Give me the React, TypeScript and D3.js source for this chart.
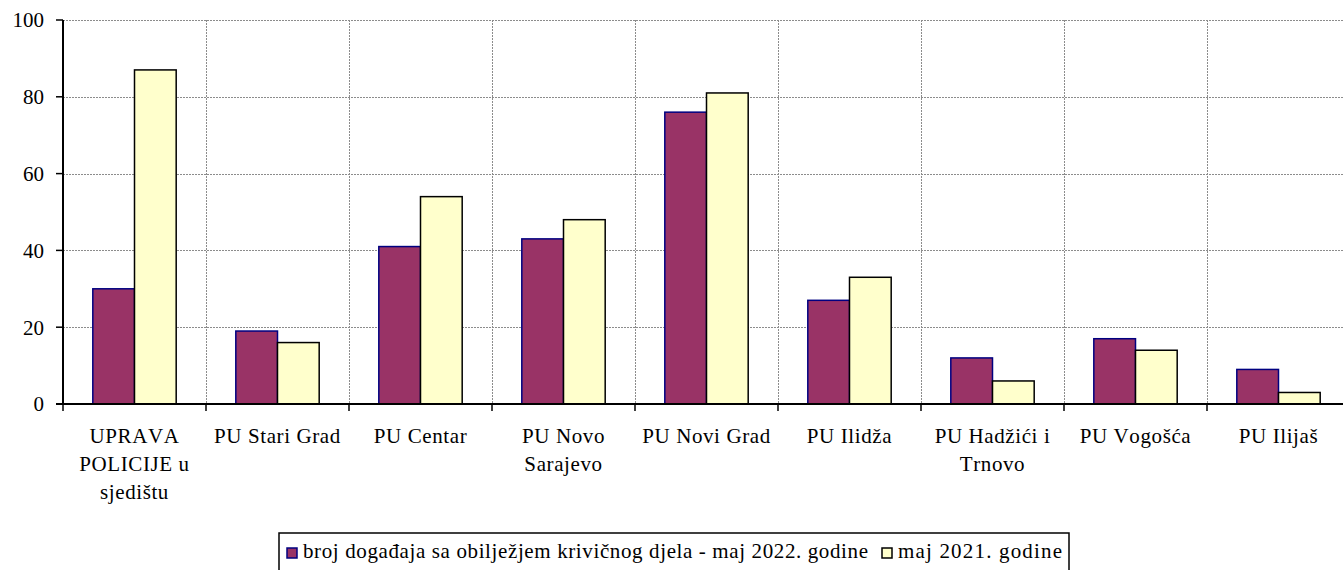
import * as d3 from 'd3';

const categories = [
    'UPRAVA POLICIJE u sjedištu',
    'PU Stari Grad',
    'PU Centar',
    'PU Novo Sarajevo',
    'PU Novi Grad',
    'PU Ilidža',
    'PU Hadžići i Trnovo',
    'PU Vogošća',
    'PU Ilijaš',
];

// how the tick labels wrap
const categoryLines = [
    ['UPRAVA', 'POLICIJE u', 'sjedištu'],
    ['PU Stari Grad'],
    ['PU Centar'],
    ['PU Novo', 'Sarajevo'],
    ['PU Novi Grad'],
    ['PU Ilidža'],
    ['PU Hadžići i', 'Trnovo'],
    ['PU Vogošća'],
    ['PU Ilijaš'],
];

const values2022 = [30, 19, 41, 43, 76, 27, 12, 17, 9];
const values2021 = [87, 16, 54, 48, 81, 33, 6, 14, 3];

const seriesNames = [
    'broj događaja sa obilježjem krivičnog djela - maj 2022. godine',
    'maj 2021. godine',
];

const yTicks = [0, 20, 40, 60, 80, 100];

const FONT = 'Liberation Serif';

const width = 1343;
const height = 570;
const margin = { top: 20, right: -7, bottom: 166, left: 63 };

const App = () => {
    const xScale = d3.scaleBand()
        .domain(categories)
        .range([margin.left, width - margin.right])
        .padding(0);

    const inner = d3.scaleBand()
        .domain(['a', 'b'])
        .range([0, xScale.bandwidth()])
        .paddingInner(0)
        .paddingOuter(0.715);

    const yScale = d3.scaleLinear()
        .domain([0, 100])
        .range([height - margin.bottom, margin.top]);

    const y0 = yScale(0);
    const bw = inner.bandwidth();

    // legend entries, text widths matched to the picture
    const legendItems = [
        { name: seriesNames[0], fill: '#993366', stroke: '#000080', x: 287, len: 565 },
        { name: seriesNames[1], fill: '#ffffcc', stroke: '#000', x: 882, len: 164 },
    ];

    const textStyle = { fontKerning: 'none' as const };

    return (
        <svg width={width} height={height} fontFamily={FONT}
            style={{ position: 'absolute', left: 0, top: 0, background: '#fff' }}>
            {/* grid */}
            {yTicks.filter(d => d > 0).map(d => (
                <line key={'h' + d} x1={margin.left} x2={width}
                    y1={Math.round(yScale(d)) + 0.5} y2={Math.round(yScale(d)) + 0.5}
                    stroke="#8c8c8c" strokeDasharray="2,1" />
            ))}
            {categories.slice(1).map(c => (
                <line key={'v' + c} x1={Math.round(xScale(c)) + 0.5} x2={Math.round(xScale(c)) + 0.5}
                    y1={margin.top} y2={y0} stroke="#8c8c8c" strokeDasharray="2,1" />
            ))}

            {/* bars */}
            {categories.map((c, i) => (
                <g key={c} transform={`translate(${xScale(c)},0)`}>
                    <rect x={inner('a')} y={yScale(values2022[i])} width={bw}
                        height={y0 - yScale(values2022[i])}
                        fill="#993366" stroke="#000080" strokeWidth={1.5} />
                    <rect x={inner('b')} y={yScale(values2021[i])} width={bw}
                        height={y0 - yScale(values2021[i])}
                        fill="#ffffcc" stroke="#000" strokeWidth={1.5} />
                </g>
            ))}

            {/* y axis */}
            <line x1={margin.left} x2={margin.left} y1={margin.top} y2={y0} stroke="#000" strokeWidth={2} />
            {yTicks.map(d => (
                <g key={'y' + d} transform={`translate(0,${yScale(d)})`}>
                    <line x1={margin.left - 7} x2={margin.left} stroke="#000" strokeWidth={1.5} />
                    <text x={margin.left - 19} dy="0.35em" textAnchor="end" fontSize={21} fill="#000"
                        style={textStyle}>
                        {d}
                    </text>
                </g>
            ))}

            {/* x axis */}
            <line x1={margin.left - 7} x2={width} y1={y0} y2={y0} stroke="#000" strokeWidth={2} />
            {categories.map(c => (
                <line key={'t' + c} x1={xScale(c)} x2={xScale(c)} y1={y0} y2={y0 + 7}
                    stroke="#000" strokeWidth={1.5} />
            ))}
            {categories.map((c, i) => (
                <text key={'l' + c} textAnchor="middle" fontSize={21} letterSpacing={0.6} fill="#000"
                    style={textStyle}>
                    {categoryLines[i].map((l, j) => (
                        <tspan key={j} x={xScale(c) + xScale.bandwidth() / 2} y={443 + j * 28}>{l}</tspan>
                    ))}
                </text>
            ))}

            {/* legend */}
            <rect x={279} y={533} width={790} height={60} fill="#fff" stroke="#000" strokeWidth={1.5} />
            {legendItems.map(item => (
                <g key={item.name}>
                    <rect x={item.x} y={548} width={10} height={10}
                        fill={item.fill} stroke={item.stroke} strokeWidth={1.5} />
                    <text x={item.x + 16} y={558} fontSize={21} fill="#000"
                        textLength={item.len} lengthAdjust="spacing" style={textStyle}>
                        {item.name}
                    </text>
                </g>
            ))}
        </svg>
    );
}

export default App;
